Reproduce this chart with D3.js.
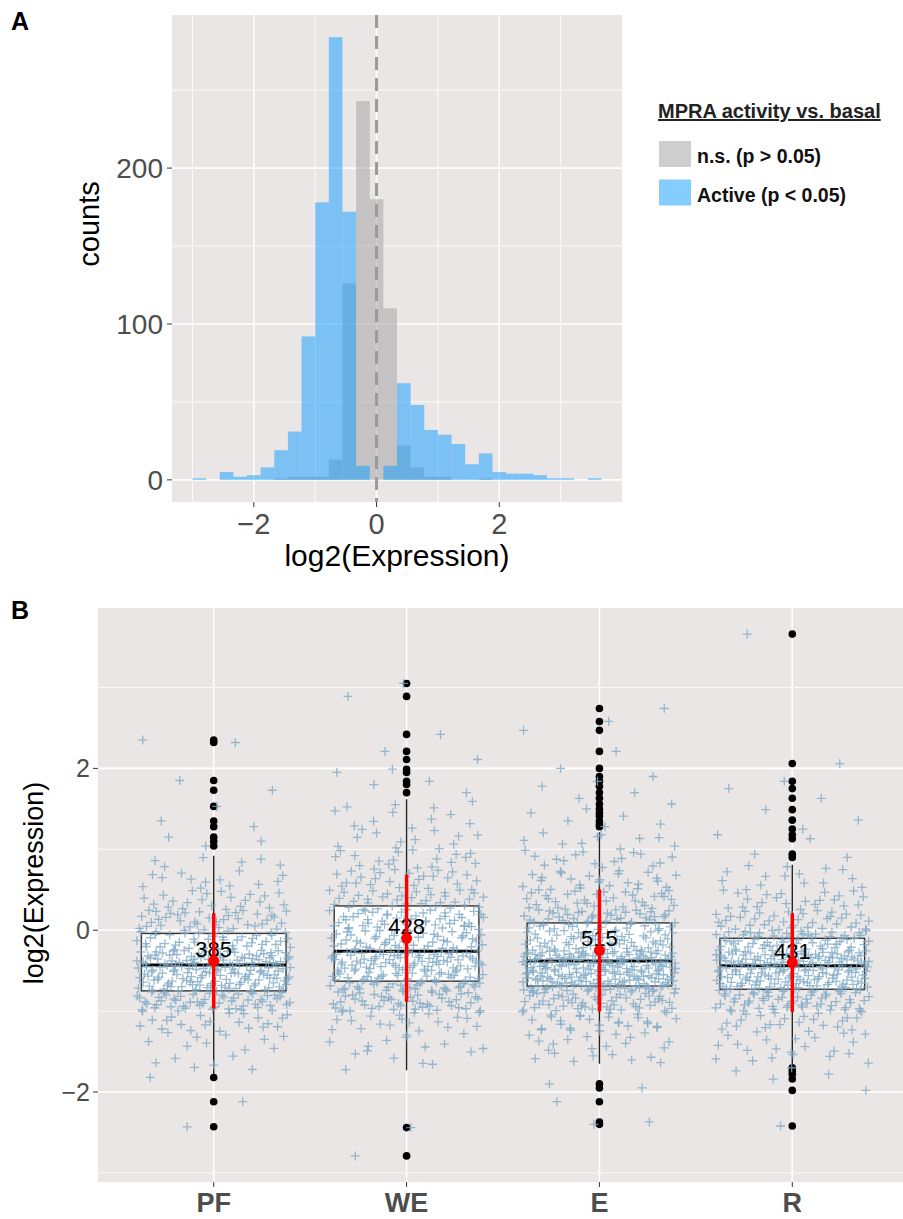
<!DOCTYPE html>
<html>
<head>
<meta charset="utf-8">
<script src="https://cdn.jsdelivr.net/npm/d3@7/dist/d3.min.js"></script>
<style>
body{margin:0;background:#fff;}
svg{display:block;font-family:"Liberation Sans",Arial,Helvetica,sans-serif;}
</style>
</head>
<body>
<script>
//----- panel A data: histogram of log2(Expression), 30 bins -----
var binStart = -3.0, binEnd = 3.667;
var activeCounts = [1, 0, 5, 2, 3, 8, 19, 31, 92, 178, 284, 172, 9, 0, 9, 62, 48, 32, 29, 23, 10, 17, 5, 4, 4, 3, 1, 1, 0, 1];
var nsCounts     = [0, 0, 0, 0, 0, 0, 1, 2, 2, 2, 13, 126, 243, 180, 110, 22, 8, 2, 2, 0, 0, 1, 0, 0, 0, 0, 0, 0, 0, 0];
var histXTicks = [-2, 0, 2], histXMinor = [-3, -1, 1, 3];
var histYTicks = [0, 100, 200], histYMinor = [50, 150, 250];
var legendTitle = "MPRA activity vs. basal";
var legendLabels = ["n.s. (p > 0.05)", "Active (p < 0.05)"];

//----- panel B data: per-group box statistics -----
var groups = ["PF", "WE", "E", "R"];
var groupN = [385, 428, 515, 431];
var q1 = [-0.75, -0.63, -0.69, -0.73];
var medians = [-0.43, -0.26, -0.38, -0.44];
var q3 = [-0.04, 0.30, 0.09, -0.10];
var whiskLo = [-1.78, -1.73, -1.65, -1.66];
var whiskHi = [0.92, 1.62, 1.21, 0.81];
var means = [-0.38, -0.10, -0.25, -0.40];
var sds = [0.59, 0.785, 0.755, 0.61];
var outliers = [
	[2.35, 2.32, 1.85, 1.73, 1.53, 1.35, 1.28, 1.15, 1.10, 1.04, -1.82, -2.12, -2.43],
	[3.05, 2.89, 2.42, 2.21, 2.11, 1.99, 1.95, 1.84, 1.80, 1.70, -2.44, -2.79],
	[2.74, 2.58, 2.47, 2.21, 2.00, 1.90, 1.84, 1.78, 1.70, 1.63, 1.56, 1.50, 1.45, 1.41, 1.35, 1.31, 1.28, -1.90, -1.95, -2.12, -2.37, -2.40],
	[3.66, 2.06, 1.84, 1.75, 1.63, 1.49, 1.36, 1.25, 1.18, 1.13, 0.94, 0.90, -1.70, -1.74, -1.78, -1.84, -1.98, -2.42]
];
//counts of non-outlier points per 0.25-wide y bin (lower edges below)
var coreBinLo = [-1.75, -1.5, -1.25, -1.0, -0.75, -0.5, -0.25, 0, 0.25, 0.5, 0.75, 1.0, 1.25, 1.5];
var coreCounts = [
	[6, 10, 22, 56, 75, 80, 45, 37, 22, 13, 6, 0, 0, 0],
	[6, 10, 20, 47, 60, 74, 47, 49, 36, 25, 18, 12, 8, 4],
	[8, 14, 28, 54, 95, 105, 55, 50, 34, 24, 16, 10, 0, 0],
	[8, 14, 24, 54, 85, 95, 60, 36, 22, 12, 3, 0, 0, 0]
];
var boxYTicks = [-2, 0, 2], boxYMinor = [-3, -1, 1, 3];

var bgFill = "#ebe6e6", tickCol = "#4d4d4d";
var minus = function(v){ return String(v).replace("-", "\u2212"); };

var svg = d3.select("body").append("svg")
	.attr("width", 903)
	.attr("height", 1219);

//================ panel A ================
var aLeft = 172, aRight = 622, aTop = 15, aBottom = 502;
var nBins = activeCounts.length,
	binW = (binEnd - binStart) / nBins,
	span = binEnd - binStart;

var xA = d3.scaleLinear()
	.domain([binStart - 0.05 * span, binEnd + 0.05 * span])
	.range([aLeft, aRight]);
var yMax = d3.max(activeCounts.concat(nsCounts));
var yA = d3.scaleLinear()
	.domain([-0.05 * yMax, 1.05 * yMax])
	.range([aBottom, aTop]);

var gA = svg.append("g");
gA.append("rect")
	.attr("x", aLeft).attr("y", aTop)
	.attr("width", aRight - aLeft).attr("height", aBottom - aTop)
	.attr("fill", bgFill);

//grid
gA.selectAll(".xminor").data(histXMinor).enter().append("line")
	.attr("x1", function(d){ return xA(d); }).attr("x2", function(d){ return xA(d); })
	.attr("y1", aTop).attr("y2", aBottom)
	.attr("stroke", "#fff").attr("stroke-width", 0.8);
gA.selectAll(".yminor").data(histYMinor).enter().append("line")
	.attr("y1", function(d){ return yA(d); }).attr("y2", function(d){ return yA(d); })
	.attr("x1", aLeft).attr("x2", aRight)
	.attr("stroke", "#fff").attr("stroke-width", 0.8);
gA.selectAll(".xmajor").data(histXTicks).enter().append("line")
	.attr("x1", function(d){ return xA(d); }).attr("x2", function(d){ return xA(d); })
	.attr("y1", aTop).attr("y2", aBottom)
	.attr("stroke", "#fff").attr("stroke-width", 1.6);
gA.selectAll(".ymajor").data(histYTicks).enter().append("line")
	.attr("y1", function(d){ return yA(d); }).attr("y2", function(d){ return yA(d); })
	.attr("x1", aLeft).attr("x2", aRight)
	.attr("stroke", "#fff").attr("stroke-width", 1.6);

//bars: n.s. first, active on top, both half transparent
function drawBars(counts, colour){
	var bins = counts.map(function(c, i){
		return {x0: binStart + i * binW, x1: binStart + (i + 1) * binW, n: c};
	}).filter(function(b){ return b.n > 0; });
	gA.selectAll(null).data(bins).enter().append("rect")
		.attr("x", function(d){ return xA(d.x0); })
		.attr("width", function(d){ return xA(d.x1) - xA(d.x0); })
		.attr("y", function(d){ return yA(d.n); })
		.attr("height", function(d){ return yA(0) - yA(d.n); })
		.attr("fill", colour)
		.attr("fill-opacity", 0.5);
}
drawBars(nsCounts, "#9e9d9d");
drawBars(activeCounts, "#0c9bff");

//dashed line at zero
gA.append("line")
	.attr("x1", xA(0)).attr("x2", xA(0))
	.attr("y1", aTop).attr("y2", aBottom)
	.attr("stroke", "#9a9a9a").attr("stroke-width", 3)
	.attr("stroke-dasharray", "13,8");

//axes
gA.selectAll(".xt").data(histXTicks).enter().append("line")
	.attr("x1", function(d){ return xA(d); }).attr("x2", function(d){ return xA(d); })
	.attr("y1", aBottom).attr("y2", aBottom + 5)
	.attr("stroke", "#333");
gA.selectAll(".xl").data(histXTicks).enter().append("text")
	.attr("x", function(d){ return xA(d); })
	.attr("y", 534)
	.attr("text-anchor", "middle")
	.attr("font-size", 29).attr("fill", tickCol)
	.text(minus);
gA.selectAll(".yt").data(histYTicks).enter().append("line")
	.attr("y1", function(d){ return yA(d); }).attr("y2", function(d){ return yA(d); })
	.attr("x1", aLeft - 5).attr("x2", aLeft)
	.attr("stroke", "#333");
gA.selectAll(".yl").data(histYTicks).enter().append("text")
	.attr("x", aLeft - 9)
	.attr("y", function(d){ return yA(d) + 10; })
	.attr("text-anchor", "end")
	.attr("font-size", 28).attr("fill", tickCol)
	.text(function(d){ return d; });

gA.append("text")
	.attr("x", (aLeft + aRight) / 2).attr("y", 566)
	.attr("text-anchor", "middle").attr("font-size", 30)
	.text("log2(Expression)");
gA.append("text")
	.attr("transform", "translate(99,224) rotate(-90)")
	.attr("text-anchor", "middle").attr("font-size", 29)
	.text("counts");

//legend
var leg = svg.append("g");
leg.append("text")
	.attr("x", 658).attr("y", 118)
	.attr("font-size", 20).attr("font-weight", "bold").attr("fill", "#222")
	.attr("text-decoration", "underline")
	.text(legendTitle);
var legColours = ["#9e9d9d", "#0c9bff"];
leg.selectAll(".key").data(legendLabels).enter().append("rect")
	.attr("x", 659)
	.attr("y", function(d, i){ return 141 + i * 38.5; })
	.attr("width", 32).attr("height", 26)
	.attr("fill", function(d, i){ return legColours[i]; })
	.attr("fill-opacity", 0.5);
leg.selectAll(".lab").data(legendLabels).enter().append("text")
	.attr("x", 697)
	.attr("y", function(d, i){ return 163 + i * 39; })
	.attr("font-size", 19.5).attr("font-weight", "bold").attr("fill", "#111")
	.text(function(d){ return d; });

svg.append("text").attr("x", 11).attr("y", 30)
	.attr("font-size", 25).attr("font-weight", "bold").text("A");

//================ panel B ================
var bLeft = 98, bRight = 908, bTop = 608, bBottom = 1182;
var xB = d3.scalePoint().domain(groups).range([bLeft, bRight]).padding(0.6);
var step = xB.step();
var allY = [];
outliers.forEach(function(o){ allY = allY.concat(o); });
var yLo = d3.min(allY), yHi = d3.max(allY), ySpan = yHi - yLo;
var yB = d3.scaleLinear()
	.domain([yLo - 0.05 * ySpan, yHi + 0.05 * ySpan])
	.range([bBottom, bTop]);

var gB = svg.append("g");
gB.append("rect")
	.attr("x", bLeft).attr("y", bTop)
	.attr("width", bRight - bLeft).attr("height", bBottom - bTop)
	.attr("fill", bgFill);
gB.selectAll(".yminor").data(boxYMinor).enter().append("line")
	.attr("y1", function(d){ return yB(d); }).attr("y2", function(d){ return yB(d); })
	.attr("x1", bLeft).attr("x2", bRight)
	.attr("stroke", "#fff").attr("stroke-width", 0.8);
gB.selectAll(".ymajor").data(boxYTicks).enter().append("line")
	.attr("y1", function(d){ return yB(d); }).attr("y2", function(d){ return yB(d); })
	.attr("x1", bLeft).attr("x2", bRight)
	.attr("stroke", "#fff").attr("stroke-width", 1.6);
gB.selectAll(".xmajor").data(groups).enter().append("line")
	.attr("x1", function(d){ return xB(d); }).attr("x2", function(d){ return xB(d); })
	.attr("y1", bTop).attr("y2", bBottom)
	.attr("stroke", "#fff").attr("stroke-width", 1.6);

//boxplots
groups.forEach(function(g, i){
	var cx = xB(g), hw = 0.375 * step;
	gB.append("line")
		.attr("x1", cx).attr("x2", cx)
		.attr("y1", yB(whiskHi[i])).attr("y2", yB(whiskLo[i]))
		.attr("stroke", "#222").attr("stroke-width", 1.4);
	gB.append("rect")
		.attr("x", cx - hw).attr("width", 2 * hw)
		.attr("y", yB(q3[i])).attr("height", yB(q1[i]) - yB(q3[i]))
		.attr("fill", "#fff").attr("stroke", "#333").attr("stroke-width", 1.4);
	gB.append("line")
		.attr("x1", cx - hw).attr("x2", cx + hw)
		.attr("y1", yB(medians[i])).attr("y2", yB(medians[i]))
		.attr("stroke", "#000").attr("stroke-width", 3);
	gB.selectAll(null).data(outliers[i]).enter().append("circle")
		.attr("cx", cx).attr("cy", function(d){ return yB(d); })
		.attr("r", 3.8).attr("fill", "#000");
});

//jittered points: offsets spread with a fixed Halton sequence (bases 2 and 3)
function halton(n, base){
	var f = 1, r = 0;
	while (n > 0){ f = f / base; r += f * (n % base); n = Math.floor(n / base); }
	return r;
}
groups.forEach(function(g, i){
	var cx = xB(g), jw = 0.4 * step, pts = [];
	coreBinLo.forEach(function(lo, j){
		var a = Math.max(lo, whiskLo[i]), b = Math.min(lo + 0.25, whiskHi[i]);
		var start = 1 + j * 37 + i * 211;
		for (var c = 0; c < coreCounts[i][j]; c++){
			pts.push([cx + (2 * halton(start + c, 2) - 1) * jw,
				a + halton(start + c, 3) * (b - a)]);
		}
	});
	outliers[i].forEach(function(v, k){
		pts.push([cx + (2 * halton(5 + k * 3 + i * 7, 5) - 1) * jw, v]);
	});
	gB.selectAll(null).data(pts).enter().append("path")
		.attr("d", function(d){
			var x = d[0], y = yB(d[1]);
			return "M" + (x - 4.5) + "," + y + "h9M" + x + "," + (y - 4.5) + "v9";
		})
		.attr("stroke", "#7fa9c4").attr("stroke-opacity", 0.8)
		.attr("stroke-width", 1.3).attr("fill", "none");
});

//n labels, then mean +/- sd in red
gB.selectAll(".nlab").data(groups).enter().append("text")
	.attr("x", function(d){ return xB(d); })
	.attr("y", function(d, i){ return yB(means[i]) - 4; })
	.attr("text-anchor", "middle").attr("font-size", 22).attr("fill", "#000")
	.text(function(d, i){ return groupN[i]; });
gB.selectAll(".sd").data(groups).enter().append("line")
	.attr("x1", function(d){ return xB(d); }).attr("x2", function(d){ return xB(d); })
	.attr("y1", function(d, i){ return yB(means[i] + sds[i]); })
	.attr("y2", function(d, i){ return yB(means[i] - sds[i]); })
	.attr("stroke", "#ff0000").attr("stroke-width", 3.5);
gB.selectAll(".mean").data(groups).enter().append("circle")
	.attr("cx", function(d){ return xB(d); })
	.attr("cy", function(d, i){ return yB(means[i]); })
	.attr("r", 5.5).attr("fill", "#ff0000");

//axes B
gB.selectAll(".yt").data(boxYTicks).enter().append("line")
	.attr("y1", function(d){ return yB(d); }).attr("y2", function(d){ return yB(d); })
	.attr("x1", bLeft - 5).attr("x2", bLeft)
	.attr("stroke", "#333");
gB.selectAll(".yl").data(boxYTicks).enter().append("text")
	.attr("x", bLeft - 8)
	.attr("y", function(d){ return yB(d) + 9; })
	.attr("text-anchor", "end").attr("font-size", 25).attr("fill", tickCol)
	.text(minus);
gB.selectAll(".xt").data(groups).enter().append("line")
	.attr("x1", function(d){ return xB(d); }).attr("x2", function(d){ return xB(d); })
	.attr("y1", bBottom).attr("y2", bBottom + 5)
	.attr("stroke", "#333");
gB.selectAll(".xl").data(groups).enter().append("text")
	.attr("x", function(d){ return xB(d); })
	.attr("y", 1212)
	.attr("text-anchor", "middle").attr("font-size", 27).attr("font-weight", "bold")
	.attr("fill", tickCol)
	.text(function(d){ return d; });
gB.append("text")
	.attr("transform", "translate(43," + ((bTop + bBottom) / 2 - 12) + ") rotate(-90)")
	.attr("text-anchor", "middle").attr("font-size", 27)
	.text("log2(Expression)");

svg.append("text").attr("x", 11).attr("y", 619)
	.attr("font-size", 25).attr("font-weight", "bold").text("B");
</script>
</body>
</html>
